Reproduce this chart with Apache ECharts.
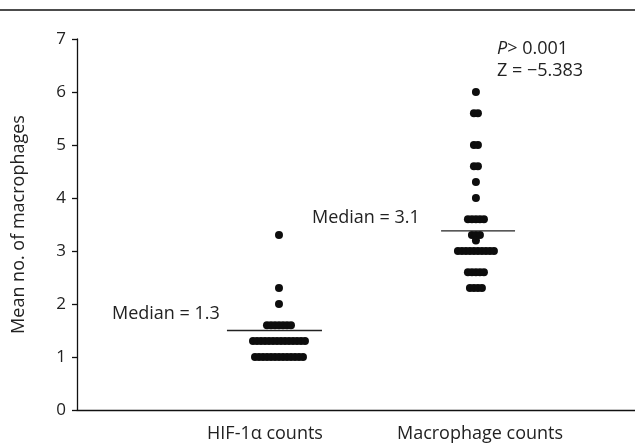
<!DOCTYPE html>
<html><head><meta charset="utf-8">
<script src="https://cdn.jsdelivr.net/npm/echarts@6/dist/echarts.min.js"></script>
<style>html,body{margin:0;padding:0;background:#fff}#c{width:635px;height:445px}</style>
</head><body><div id="c"></div>
<script>
// ---- data ----
const categories = ['HIF-1α counts', 'Macrophage counts'];
const yTicks = [0, 1, 2, 3, 4, 5, 6, 7];
const hifValues = [3.3, 2.3, 2.0,
  1.6, 1.6, 1.6, 1.6, 1.6, 1.6, 1.6,
  1.3, 1.3, 1.3, 1.3, 1.3, 1.3, 1.3, 1.3, 1.3, 1.3, 1.3, 1.3, 1.3, 1.3,
  1.0, 1.0, 1.0, 1.0, 1.0, 1.0, 1.0, 1.0, 1.0, 1.0, 1.0, 1.0, 1.0];
const macrophageValues = [6.0, 5.6, 5.6, 5.0, 5.0, 4.6, 4.6, 4.3, 4.0,
  3.6, 3.6, 3.6, 3.6, 3.6, 3.3, 3.3, 3.3, 3.2,
  3.0, 3.0, 3.0, 3.0, 3.0, 3.0, 3.0, 3.0, 3.0, 3.0,
  2.6, 2.6, 2.6, 2.6, 2.6, 2.3, 2.3, 2.3, 2.3];
const medianLineValues = [1.5, 3.38];
const medianLabels = ['Median = 1.3', 'Median = 3.1'];
const statsLines = ['P', '> 0.001', 'Z = \u22125.383'];

// ---- layout (style) ----
const FONT = '"Open Sans", "DejaVu Sans", sans-serif';
const TXT = '#222';
const DOT_STEP = 0.0186;           // horizontal step between stacked dots (axis units)
const clusterShift = [0.065, -0.019];
const lineCenter = [0.044, -0.009];
const lineHalf = [0.221, 0.172];

function swarm(values, catIdx) {
  const groups = new Map();
  values.forEach(v => { groups.set(v, (groups.get(v) || 0) + 1); });
  const pts = [];
  groups.forEach((n, v) => {
    for (let i = 0; i < n; i++) {
      pts.push([catIdx + clusterShift[catIdx] + (i - (n - 1) / 2) * DOT_STEP, v]);
    }
  });
  return pts;
}
function medianLine(i) {
  const c = i + lineCenter[i];
  return [[c - lineHalf[i], medianLineValues[i]], [c + lineHalf[i], medianLineValues[i]]];
}

const chart = echarts.init(document.getElementById('c'), null, {renderer: 'canvas'});
chart.setOption({
  animation: false,
  backgroundColor: '#fff',
  grid: {left: 77, right: 0, top: 39, bottom: 35},
  xAxis: {
    type: 'value', min: -0.8744, max: 1.7209,
    axisLine: {onZero: false, lineStyle: {color: '#111', width: 1.3}},
    axisTick: {show: false},
    splitLine: {show: false},
    axisLabel: {
      customValues: [0, 1],
      formatter: v => categories[Math.round(v)],
      color: TXT, fontFamily: FONT, fontSize: 18, margin: 15
    }
  },
  yAxis: {
    type: 'value', min: yTicks[0], max: yTicks[yTicks.length - 1], interval: 1,
    name: 'Mean no. of macrophages', nameLocation: 'middle', nameGap: 49,
    nameTextStyle: {color: TXT, fontFamily: FONT, fontSize: 18},
    axisLine: {show: true, onZero: false, lineStyle: {color: '#111', width: 1.3}},
    axisTick: {show: true, length: 5, lineStyle: {color: '#111', width: 1.3}},
    splitLine: {show: false},
    axisLabel: {color: TXT, fontFamily: FONT, fontSize: 17, margin: 11}
  },
  series: [
    {type: 'scatter', data: swarm(hifValues, 0), symbolSize: 8, itemStyle: {color: '#0d0d0d', opacity: 1}},
    {type: 'scatter', data: swarm(macrophageValues, 1), symbolSize: 8, itemStyle: {color: '#0d0d0d', opacity: 1}},
    {type: 'line', data: medianLine(0), symbol: 'none', lineStyle: {color: '#222', width: 1.3}},
    {type: 'line', data: medianLine(1), symbol: 'none', lineStyle: {color: '#222', width: 1.3}}
  ],
  graphic: [
    {type: 'line', shape: {x1: 0, y1: 10, x2: 635, y2: 10}, style: {stroke: '#111', lineWidth: 1.5}},
    {type: 'text', style: {x: 112, y: 314, verticalAlign: 'middle', text: medianLabels[0], fill: TXT, font: '18px ' + FONT}},
    {type: 'text', style: {x: 312, y: 218, verticalAlign: 'middle', text: medianLabels[1], fill: TXT, font: '18px ' + FONT}},
    {type: 'text', style: {x: 497, y: 49, verticalAlign: 'middle',
      text: '{i|' + statsLines[0] + '}' + statsLines[1], fill: TXT, font: '18px ' + FONT,
      rich: {i: {fontStyle: 'italic', fontFamily: FONT, fontSize: 18, fill: TXT}}}},
    {type: 'text', style: {x: 497, y: 71, verticalAlign: 'middle', text: statsLines[2], fill: TXT, font: '18px ' + FONT}}
  ]
});
</script>
</body></html>
